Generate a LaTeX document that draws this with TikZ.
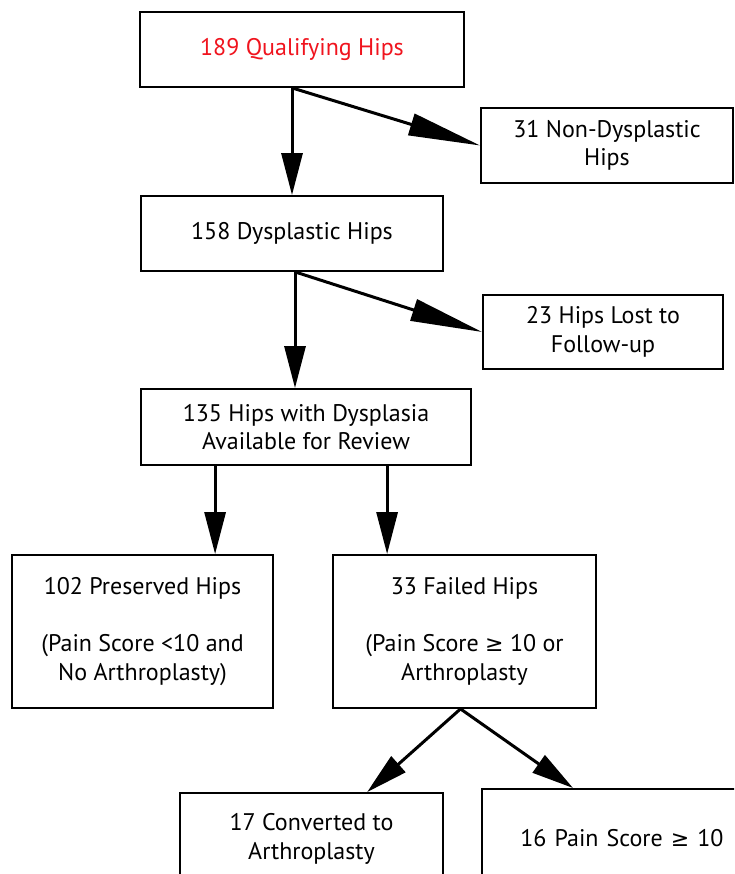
\documentclass[tikz,border=0pt]{standalone}
\usepackage{fontspec}
\setmainfont{PT Sans}
\newfontfamily\symf{DejaVu Sans}
\usetikzlibrary{arrows.meta,calc}
\definecolor{titlered}{RGB}{240,20,30}
\begin{document}
\begin{tikzpicture}[x=1pt,y=-1pt,
  box/.style={draw, line width=1.8pt, inner sep=0pt, align=center,
    font=\fontsize{24}{28.5}\selectfont},
  arr/.style={line width=3pt, -{Triangle[length=42pt,width=21pt]}},
  longarr/.style={line width=3pt, -{Triangle[length=72pt,width=22pt]}}]
\clip (0,0) rectangle (734,874);
\fill[white] (0,0) rectangle (734,874);
% boxes
\node[box, minimum width=324pt, minimum height=75pt, text=titlered] (b1) at (302,49.5) {189 Qualifying Hips};
\node[box, minimum width=252pt, minimum height=75pt] (b31) at (607,145.5) {31 Non-Dysplastic\\Hips};
\node[box, minimum width=302pt, minimum height=75pt] (b2) at (292,233.5) {158 Dysplastic Hips};
\node[box, minimum width=240pt, minimum height=74pt] (b23) at (603,332) {23 Hips Lost to\\Follow-up};
\node[box, minimum width=330pt, minimum height=76pt] (b3) at (306,427) {135 Hips with Dysplasia\\Available for Review};
\node[box, minimum width=261pt, minimum height=153pt] (b102) at (142.5,631.5) {102 Preserved Hips\\[28.5pt](Pain Score <10 and\\No Arthroplasty)};
\node[box, minimum width=263pt, minimum height=153pt] (b33) at (464.5,631.5) {33 Failed Hips\\[28.5pt](Pain Score {\symf\fontsize{22}{28.5}\selectfont ≥} 10 or\\Arthroplasty};
\node[box, minimum width=263pt, minimum height=92pt] (b17) at (311.5,839) {17 Converted to\\Arthroplasty};
\node[box, minimum width=280pt, minimum height=98pt, text width=253pt, anchor=north west] (b16) at (481,788) {16 Pain Score {\symf\fontsize{22}{28.5}\selectfont ≥} 10};
% connectors
\draw[arr] (b1.south -| b2.north) -- (b2.north);
\draw[longarr] (b1.south -| b2.north) -- (b31.west);
\draw[arr] ([xshift=3pt]b2.south) -- ([xshift=3pt]b2.south |- b3.north);
\draw[longarr] ([xshift=3pt]b2.south) -- (b23.west);
\draw[arr] ([xshift=75pt]b3.south west) -- ([xshift=75pt]b3.south west |- b102.north);
\draw[arr] ([xshift=247pt]b3.south west) -- ([xshift=247pt]b3.south west |- b33.north);
\draw[arr] ([xshift=-4pt]b33.south) -- ([xshift=188pt]b17.north west);
\draw[arr] ([xshift=-4pt]b33.south) -- ([xshift=92pt]b16.north west);
\end{tikzpicture}
\end{document}
